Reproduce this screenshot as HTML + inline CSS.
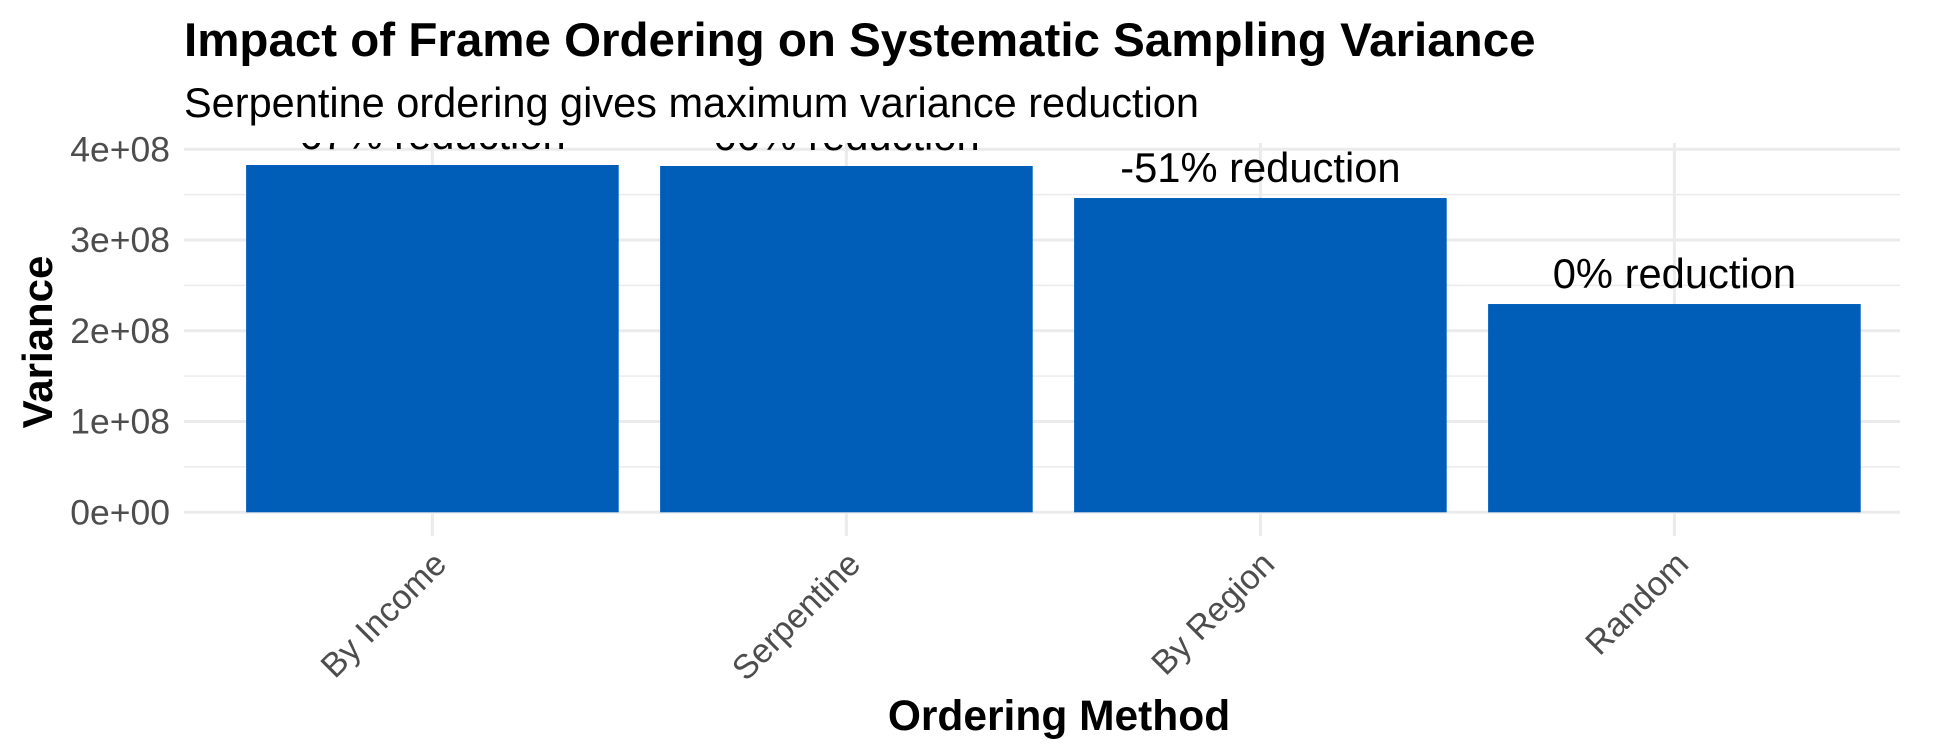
<!DOCTYPE html>
<html><head><meta charset="utf-8"><style>
html,body{margin:0;padding:0;background:#fff;}
svg{display:block;font-family:"Liberation Sans",Arial,sans-serif;}
</style></head><body>
<svg id="chart" width="1944" height="756" viewBox="0 0 1944 756">
<defs><clipPath id="pc"><rect x="184" y="143" width="1747" height="390"/></clipPath></defs>
<text x="184" y="56" font-size="47.5" font-weight="bold" fill="#000">Impact of Frame Ordering on Systematic Sampling Variance</text>
<text x="184" y="117" font-size="41.5" fill="#000">Serpentine ordering gives maximum variance reduction</text>
<g id="grid"></g>
<g id="bars" clip-path="url(#pc)"></g>
<g id="yticks"></g>
<g id="xticks"></g>
<text x="1059" y="730" font-size="42.5" font-weight="bold" text-anchor="middle" fill="#000">Ordering Method</text>
<text transform="translate(52,342) rotate(-90)" font-size="42" font-weight="bold" text-anchor="middle" fill="#000">Variance</text>
</svg>
<script>
const categories = ["By Income","Serpentine","By Region","Random"];
const variances = [3.827e8, 3.816e8, 3.463e8, 2.295e8];
const barLabels = ["67% reduction","66% reduction","-51% reduction","0% reduction"];
const yTicks = [0,1e8,2e8,3e8,4e8];
const yTickLabels = ["0e+00","1e+08","2e+08","3e+08","4e+08"];

const NS="http://www.w3.org/2000/svg";
const left=184,right=1900,y0=512.3,pxPer=90.75/1e8,step=414;
const x=i=>left+(i+0.6)*step;
const y=v=>y0-v*pxPer;
function mk(tag,attrs,parent){const e=document.createElementNS(NS,tag);for(const k in attrs)e.setAttribute(k,attrs[k]);parent.appendChild(e);return e;}
const grid=document.getElementById('grid'),bars=document.getElementById('bars'),yt=document.getElementById('yticks'),xt=document.getElementById('xticks');
for(let i=0;i<yTicks.length-1;i++){
  const v=(yTicks[i]+yTicks[i+1])/2;
  const l=mk('line',{x1:left,x2:right,y1:y(v),y2:y(v),stroke:'#ebebeb','stroke-width':1.5},grid);
  
  
}
yTicks.forEach((v,i)=>{
  const l=mk('line',{x1:left,x2:right,y1:y(v),y2:y(v),stroke:'#ebebeb','stroke-width':3},grid);
  
  
  const t=mk('text',{x:170,y:y(v)+12,'font-size':35.5,'text-anchor':'end',fill:'#4d4d4d'},yt);
  t.textContent=yTickLabels[i];
  
  
});
categories.forEach((c,i)=>{
  const l=mk('line',{x1:x(i),x2:x(i),y1:143,y2:536,stroke:'#ebebeb','stroke-width':3},grid);
  
  
  const w=step*0.9;
  const r=mk('rect',{x:x(i)-w/2,y:y(variances[i]),width:w,height:y0-y(variances[i]),fill:'#005eb8'},bars);
  
  
  const t=mk('text',{x:x(i),y:y(variances[i])-16,'font-size':41.7,'text-anchor':'middle',fill:'#000'},bars);
  t.textContent=barLabels[i];
  
  
  const xl=mk('text',{transform:`translate(${x(i)+16},${566}) rotate(-45)`,'font-size':34,'text-anchor':'end',fill:'#4d4d4d'},xt);
  xl.textContent=c;
  
  
});
</script>
</body></html>
